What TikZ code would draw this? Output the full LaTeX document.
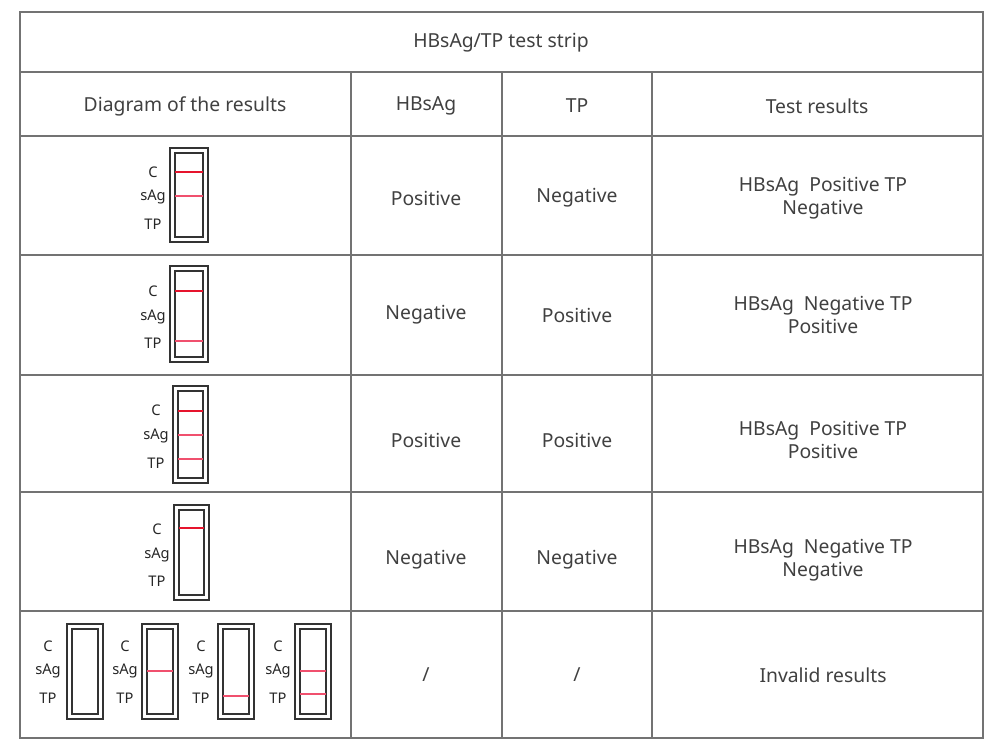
\documentclass[tikz,border=0pt]{standalone}
\usepackage{fontspec}
\setmainfont{Noto Sans}
\begin{document}
\begin{tikzpicture}[x=0.75pt,y=-0.75pt,
  grid/.style={draw=black!55,line width=0.9pt},
  txt/.style={font=\fontsize{14.5}{17}\selectfont,text=black!75,align=center},
  lab/.style={font=\fontsize{11}{12}\selectfont,text=black!85},
  outerS/.style={draw=black!80,line width=0.8pt},
  cline/.style={draw={rgb,255:red,230;green,20;blue,45},line width=2.2pt},
  pline/.style={draw={rgb,255:red,240;green,80;blue,110},line width=2.2pt}]
\useasboundingbox (0,0) rectangle (1000,750);
\draw[grid] (20,12) rectangle (983,738);
\foreach \y in {72,136,255,375,492,611} \draw[grid] (20,\y) -- (983,\y);
\foreach \x in {351,502,652} \draw[grid] (\x,72) -- (\x,738);
\node[txt] (title) at (501,43) {HBsAg/TP test strip};
\node[txt] (h1) at (185,106) {Diagram of the results};
\node[txt] (h2) at (426,106) {HBsAg};
\node[txt] (h3) at (577,106) {TP};
\node[txt] (h4) at (817,106) {Test results};
% rows
\node[txt] (a1) at (426,198) {Positive};
\node[txt] (b1) at (577,198) {Negative};
\node[txt] (c1) at (823,198) {HBsAg\ \ Positive TP\\Negative};
\node[txt] (a2) at (426,315) {Negative};
\node[txt] (b2) at (577,315) {Positive};
\node[txt] (c2) at (823,315) {HBsAg\ \ Negative TP\\Positive};
\node[txt] (a3) at (426,440) {Positive};
\node[txt] (b3) at (577,440) {Positive};
\node[txt] (c3) at (823,440) {HBsAg\ \ Positive TP\\Positive};
\node[txt] (a4) at (426,560) {Negative};
\node[txt] (b4) at (577,560) {Negative};
\node[txt] (c4) at (823,560) {HBsAg\ \ Negative TP\\Negative};
\node[txt] (a5) at (426,675) {/};
\node[txt] (b5) at (577,675) {/};
\node[txt] (c5) at (823,675) {Invalid results};
% strips
\newcommand{\stripbox}[4]{% x1 y1 x2 y2
  \draw[outerS] (#1,#2) rectangle (#3,#4);
  \draw[outerS] ({#1+5},{#2+5}) rectangle ({#3-5},{#4-5});}
\newcommand{\stripLabels}[4]{% x, yC, ysAg, yTP
  \node[lab] at (#1,#2) {C};
  \node[lab] at (#1,#3) {sAg};
  \node[lab] at (#1,#4) {TP};}
% row1
\stripbox{170}{148}{208}{242}
\stripLabels{153}{172}{197}{224}
\draw[cline] (175,172) -- (203,172);
\draw[pline] (175,196) -- (203,196);
% row2
\stripbox{170}{266}{208}{362}
\stripLabels{153}{291}{317}{343}
\draw[cline] (175,291) -- (203,291);
\draw[pline] (175,341) -- (203,341);
% row3
\stripbox{173}{386}{208}{483}
\stripLabels{156}{410}{436}{463}
\draw[cline] (178,411) -- (203,411);
\draw[pline] (178,435) -- (203,435);
\draw[pline] (178,459) -- (203,459);
% row4
\stripbox{174}{505}{209}{600}
\stripLabels{157}{529}{555}{581}
\draw[cline] (179,528) -- (204,528);
% row5
\stripbox{67}{624}{103}{719}
\stripLabels{48}{646}{671}{698}
\stripbox{142}{624}{178}{719}
\stripLabels{125}{646}{671}{698}
\draw[pline] (147,671) -- (173,671);
\stripbox{218}{624}{254}{719}
\stripLabels{201}{646}{671}{698}
\draw[pline] (223,696) -- (249,696);
\stripbox{295}{624}{331}{719}
\stripLabels{278}{646}{671}{698}
\draw[pline] (300,671) -- (326,671);
\draw[pline] (300,694) -- (326,694);
\end{tikzpicture}
\end{document}
